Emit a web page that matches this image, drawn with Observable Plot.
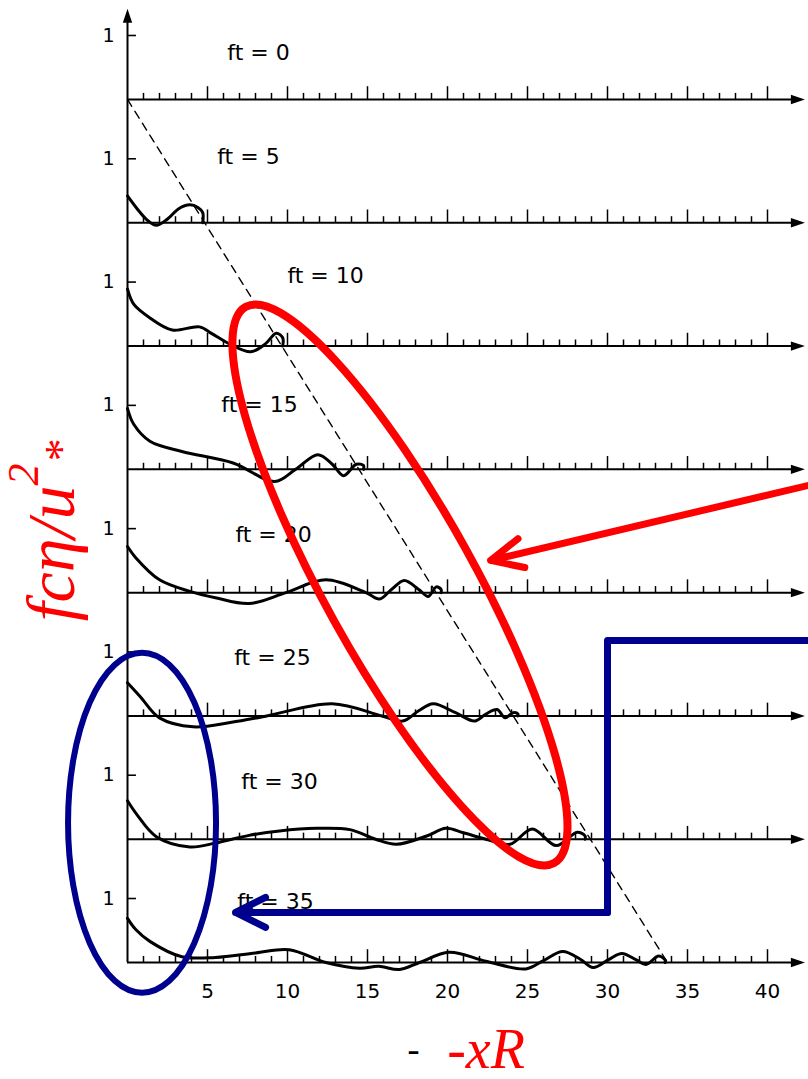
<!DOCTYPE html>
<html><head><meta charset="utf-8">
<script src="https://cdn.jsdelivr.net/npm/d3@7"></script>
<script src="https://cdn.jsdelivr.net/npm/@observablehq/plot@0.6"></script>
<style>body{margin:0;background:#fff}svg{display:block}</style>
</head><body><div id="chart"></div>
<script>
// ---------- data ----------
const panels = [0, 5, 10, 15, 20, 25, 30, 35];          // ft values, top to bottom
const xTickLabels = [5, 10, 15, 20, 25, 30, 35, 40];
const baselineTicks = d3.range(1, 41);

const xFt5  = [0, 0.6, 1.2, 1.8, 2.5, 3.2, 3.9, 4.4, 4.7, 4.7];
const vFt5  = [0.42, 0.22, 0.05, -0.04, 0.06, 0.22, 0.28, 0.24, 0.16, 0];
const xFt10 = [0, 0.4, 1.4, 2.8, 4.5, 5.3, 6.4, 7.7, 8.6, 9.3, 9.7, 9.7];
const vFt10 = [0.89, 0.65, 0.44, 0.25, 0.3, 0.19, 0.03, -0.09, 0.03, 0.2, 0.13, 0];
const xFt15 = [0, 0.4, 1.4, 3.4, 6.6, 9.2, 10.5, 11.9, 12.8, 13.5, 14.3, 14.75, 14.75];
const vFt15 = [0.95, 0.7, 0.44, 0.28, 0.1, -0.19, 0, 0.23, 0.08, -0.1, 0.08, 0.06, 0];
const xFt20 = [0, 0.5, 2, 3.9, 5.5, 7.6, 9.9, 12.4, 14.9, 15.75, 16.5, 17.3, 18.2, 18.8, 19.3, 19.6, 19.6];
const vFt20 = [0.72, 0.55, 0.2, 0.02, -0.08, -0.17, 0, 0.2, 0, -0.1, 0.05, 0.19, 0.05, -0.06, 0.09, 0.05, 0];
const xFt25 = [0, 0.8, 2, 4.1, 6.5, 8.7, 12.8, 15.9, 17.2, 18.2, 19.1, 20.5, 21.7, 22.4, 23.1, 23.6, 24.1, 24.4, 24.4];
const vFt25 = [0.52, 0.3, -0.03, -0.17, -0.1, 0, 0.19, 0, -0.08, 0.08, 0.19, 0.05, -0.08, 0.03, 0.1, -0.03, 0.05, 0.03, 0];
const xFt30 = [0, 0.6, 1.8, 3.9, 5.5, 7.6, 9.5, 11.8, 13.9, 15.5, 16.8, 18.7, 19.9, 21, 22.4, 23.9, 25.3, 26.8, 28.1, 28.6, 28.6];
const vFt30 = [0.6, 0.38, 0.04, -0.12, -0.06, 0.06, 0.13, 0.17, 0.15, 0, -0.08, 0.05, 0.17, 0.1, 0, -0.08, 0.16, -0.1, 0.11, 0.05, 0];
const xFt35 = [0, 0.5, 1.4, 3.4, 5.5, 8, 10.1, 12.4, 14.5, 15.7, 17, 18.25, 20.1, 22.4, 24.9, 26, 27.2, 28.3, 29.1, 30.1, 30.9, 31.8, 32.4, 33.2, 33.6, 33.6];
const vFt35 = [0.69, 0.52, 0.33, 0.09, 0.08, 0.15, 0.2, 0, -0.09, -0.06, -0.11, 0, 0.16, 0.02, -0.1, 0.03, 0.17, 0.05, -0.08, 0.05, 0.14, 0.04, -0.03, 0.1, 0.04, 0];

const dashedEndX = 33.75;   // where the dashed front meets the ft = 35 baseline

// ---------- layout (not data) ----------
const S = 123.3 / 64;                         // vertical gap between stacked panels, in value units
const labelX = [8.19, 7.56, 12.38, 8.25, 9.13, 9.06, 9.5, 9.25];
const labelRise = [0.72, 1.03, 1.1, 1.0, 0.9, 0.91, 0.9, 0.95];
const base = i => -i * S;

const profiles = [
  {ft: 5, x: xFt5, v: vFt5}, {ft: 10, x: xFt10, v: vFt10}, {ft: 15, x: xFt15, v: vFt15},
  {ft: 20, x: xFt20, v: vFt20}, {ft: 25, x: xFt25, v: vFt25}, {ft: 30, x: xFt30, v: vFt30},
  {ft: 35, x: xFt35, v: vFt35}
];
const curveRows = profiles.flatMap(p => {
  const i = panels.indexOf(p.ft);
  return p.x.map((x, j) => ({ft: p.ft, x, y: p.v[j] + base(i)}));
});
const tickRows = panels.flatMap((ft, i) => baselineTicks.map(t => ({
  x: t, y1: base(i), y2: base(i) + (t % 5 === 0 ? 0.2 : 0.095)
})));
const dashRows = [{x: 0, y: base(0)}, {x: dashedEndX, y: base(7)}];

// annotation geometry (data units)
const redArrow = {x1: 42.81, y1: -6.016, x2: 22.69, y2: -7.203};
const bluePath = [{x: 42.81, y: -8.453}, {x: 30, y: -8.453}, {x: 30, y: -12.703}];
const blueArrow = {x1: 30, y1: -12.703, x2: 6.75, y2: -12.703};

const arrowSym = {draw(ctx, size) {
  const l = Math.sqrt(size);
  ctx.moveTo(0.6 * l, 0); ctx.lineTo(-0.6 * l, -0.4 * l); ctx.lineTo(-0.6 * l, 0.4 * l); ctx.closePath();
}};

const RED = "#ff0000", BLUE = "#00008f";

const plot = Plot.plot({
  width: 808, height: 1079,
  marginLeft: 127, marginRight: 0, marginTop: 0, marginBottom: 117,
  x: {domain: [0, 681 / 16]},
  y: {domain: [-7 * S, 99 / 64]},
  style: {fontFamily: "'DejaVu Sans', sans-serif", background: "white", color: "black"},
  marks: [
    Plot.ruleY(panels, {y: (d, i) => base(i), x1: 0, x2: 42.0, strokeWidth: 2}),
    Plot.dot(panels, {x: 41.9, y: (d, i) => base(i), symbol: arrowSym, r: 6.6, fill: "black", stroke: null}),
    Plot.ruleX(tickRows, {x: "x", y1: "y1", y2: "y2", strokeWidth: 1.5}),
    Plot.ruleX([0], {x: 0, y1: base(7), y2: 1.3, strokeWidth: 2}),
    Plot.dot([0], {x: 0, y: 1.31, symbol: arrowSym, rotate: -90, r: 6.6, fill: "black", stroke: null}),
    Plot.ruleY(panels, {y: (d, i) => 1 + base(i), x1: 0, x2: 0.56, strokeWidth: 1.6}),
    Plot.axisY({ticks: panels.map((d, i) => 1 + base(i)), tickFormat: () => "1", tickSize: 0, tickPadding: 13, fontSize: 19, label: null}),
    Plot.axisX({ticks: xTickLabels, tickSize: 0, tickPadding: 21, fontSize: 20, label: null}),
    Plot.line(dashRows, {x: "x", y: "y", strokeDasharray: "8,6", strokeWidth: 1.4}),
    Plot.line(curveRows, {x: "x", y: "y", z: "ft", curve: "catmull-rom", strokeWidth: 3}),
    Plot.text(panels, {x: (d, i) => labelX[i], y: (d, i) => labelRise[i] + base(i), text: d => `ft = ${d}`, fontSize: 22}),
    Plot.line(bluePath, {x: "x", y: "y", stroke: BLUE, strokeWidth: 7, strokeLinejoin: "round"}),
    Plot.arrow([blueArrow], {x1: "x1", y1: "y1", x2: "x2", y2: "y2", stroke: BLUE, strokeWidth: 7, headAngle: 53, headLength: 7.2}),
    Plot.arrow([redArrow], {x1: "x1", y1: "y1", x2: "x2", y2: "y2", stroke: RED, strokeWidth: 7, headAngle: 50, headLength: 7.5})
  ]
});

// ellipses and axis titles drawn on top, positioned through the plot's scales
const sx = plot.scale("x"), sy = plot.scale("y");
const svg = d3.select(plot);
function ellipse(cx, cy, rx, ry, angle, color, w) {
  const px = sx.apply(cx), py = sy.apply(cy);
  svg.append("ellipse").attr("cx", px).attr("cy", py).attr("rx", rx).attr("ry", ry)
    .attr("transform", `rotate(${angle} ${px} ${py})`)
    .attr("fill", "none").attr("stroke", color).attr("stroke-width", w);
}
ellipse(17.06, -7.594, 318, 75, 61, RED, 8);
ellipse(0.94, -11.31, 74, 170, 0, BLUE, 6);

// y title
const yt = svg.append("text")
  .attr("transform", `translate(${sx.apply(-3.3)},${sy.apply(-6.75)}) rotate(-90)`)
  .attr("text-anchor", "middle")
  .attr("font-family", "'Liberation Serif', serif").attr("font-style", "italic")
  .attr("font-size", 68).attr("fill", RED);
yt.append("tspan").text("fcη/u");
yt.append("tspan").attr("font-size", 44).attr("dy", -36).text("2");
yt.append("tspan").attr("font-size", 46).attr("dy", 39).text("*");

// x title
svg.append("text").attr("x", sx.apply(17.9)).attr("y", sy.apply(-15.05))
  .attr("text-anchor", "middle").attr("font-family", "'DejaVu Sans', sans-serif")
  .attr("font-size", 36).attr("fill", "black").text("-");
svg.append("text").attr("x", sx.apply(22.44)).attr("y", sy.apply(-15.15))
  .attr("text-anchor", "middle").attr("font-family", "'Liberation Serif', serif")
  .attr("font-style", "italic").attr("font-size", 56).attr("fill", RED).text("-xR");

document.getElementById("chart").append(plot);
</script></body></html>
